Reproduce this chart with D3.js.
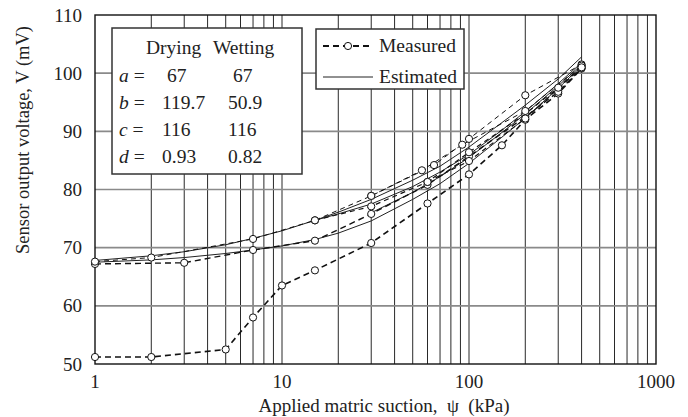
<!DOCTYPE html>
<html>
<head>
<meta charset="utf-8">
<script src="https://cdn.jsdelivr.net/npm/d3@7"></script>
<style>
  html, body { margin: 0; padding: 0; background: #fff; }
  svg { display: block; font-family: "Liberation Serif", "DejaVu Serif", serif; }
</style>
</head>
<body>
<svg id="chart" width="688" height="417"></svg>
<script>
// ---- data ----
const yTicks = [50, 60, 70, 80, 90, 100, 110];
const xTicks = [1, 10, 100, 1000];

// measured series (dashed + open circles)
const m1Psi = [1, 2, 5, 7, 10, 15, 30, 60, 100, 150, 200, 300, 400];
const m1V   = [51.2, 51.2, 52.5, 58, 63.5, 66.1, 70.8, 77.6, 82.6, 87.6, 92.0, 96.5, 100.8];
const m2Psi = [1, 3, 7, 15, 30, 60, 100, 200, 300, 400];
const m2V   = [67.2, 67.4, 69.6, 71.2, 75.8, 80.8, 85.7, 92.5, 96.8, 100.9];
const m3Psi = [1, 2, 7, 15, 30, 65, 100, 200, 400];
const m3V   = [67.6, 68.3, 71.5, 74.7, 78.9, 84.2, 88.7, 96.2, 101.5];
const m4Psi = [15, 30, 60, 100, 200, 300, 400];
const m4V   = [74.7, 77.1, 81.3, 86.4, 93.0, 97.5, 101.2];
const m5Psi = [30, 56, 92, 200, 400];
const m5V   = [78.9, 83.3, 87.7, 93.5, 101.3];
const m6Psi = [60, 100, 200, 400];
const m6V   = [81.3, 84.9, 92.2, 101.0];

// estimated series (thin solid)
const e1Psi = [1, 2, 3, 5, 7, 10, 15, 20, 30, 50, 70, 100, 150, 200, 300, 400];
const e1V   = [67.8, 68.6, 69.3, 70.5, 71.6, 72.9, 74.7, 76.1, 78.3, 81.6, 84.0, 87.3, 91.5, 94.5, 99.0, 102.8];
const e2Psi = [1, 2, 3, 5, 7, 10, 15, 20, 30, 50, 70, 100, 150, 200, 300, 400];
const e2V   = [67.5, 67.9, 68.3, 69.0, 69.6, 70.3, 71.4, 72.5, 74.6, 78.3, 81.0, 84.5, 89.0, 92.3, 97.4, 101.2];
const e3Psi = [15, 20, 30, 50, 70, 100, 150, 200, 300, 400];
const e3V   = [74.7, 75.8, 77.5, 80.5, 83.0, 86.0, 90.2, 93.4, 98.2, 101.8];
const e4Psi = [30, 50, 70, 100, 150, 200, 300, 400];
const e4V   = [76.0, 79.5, 82.2, 85.5, 89.8, 93.0, 97.8, 101.5];

const tableHead = ["Drying", "Wetting"];
const tableKeys = ["a", "b", "c", "d"];
const tableDry  = ["67", "119.7", "116", "0.93"];
const tableWet  = ["67", "50.9", "116", "0.82"];

const measured = [
  {psi: m1Psi, v: m1V, w: 1.6, dash: "6,4"},
  {psi: m2Psi, v: m2V, w: 1.4, dash: "6,4"},
  {psi: m3Psi, v: m3V, w: 1.0, dash: "5,4"},
  {psi: m4Psi, v: m4V, w: 1.2, dash: "5,4"},
  {psi: m5Psi, v: m5V, w: 1.0, dash: "5,4"},
  {psi: m6Psi, v: m6V, w: 1.2, dash: "5,4"}
];
const estimated = [
  {psi: e1Psi, v: e1V}, {psi: e2Psi, v: e2V},
  {psi: e3Psi, v: e3V}, {psi: e4Psi, v: e4V}
];

// ---- layout ----
const svg = d3.select("#chart");
const m = {left: 95, right: 656, top: 15, bottom: 364};
const x = d3.scaleLog().domain([1, 1000]).range([m.left, m.right]);
const y = d3.scaleLinear().domain([50, 110]).range([m.bottom, m.top]);

// vertical grid (black, thin)
const vGrid = [];
for (let dec = 1; dec < 1000; dec *= 10)
  for (let k = 2; k <= 9; k++) vGrid.push(dec * k);
vGrid.push(10, 100);
svg.append("g").selectAll("line").data(vGrid).join("line")
  .attr("x1", d => x(d)).attr("x2", d => x(d))
  .attr("y1", m.top).attr("y2", m.bottom)
  .attr("stroke", "#111").attr("stroke-width", 0.9);

// horizontal grid (grey)
svg.append("g").selectAll("line").data(yTicks.slice(1, -1)).join("line")
  .attr("x1", m.left).attr("x2", m.right)
  .attr("y1", d => y(d)).attr("y2", d => y(d))
  .attr("stroke", "#8a8a8a").attr("stroke-width", 1.6);

// frame
svg.append("rect").attr("x", m.left).attr("y", m.top)
  .attr("width", m.right - m.left).attr("height", m.bottom - m.top)
  .attr("fill", "none").attr("stroke", "#111").attr("stroke-width", 1.4);

// tick labels
svg.append("g").selectAll("text").data(yTicks).join("text")
  .attr("x", 82).attr("y", d => y(d) + 6.5)
  .attr("text-anchor", "end").attr("font-size", 19).attr("fill", "#222")
  .text(d => d);
svg.append("g").selectAll("text").data(xTicks).join("text")
  .attr("x", d => x(d)).attr("y", 388)
  .attr("text-anchor", "middle").attr("font-size", 19).attr("fill", "#222")
  .text(d => d);

// axis titles
svg.append("text").attr("x", 384).attr("y", 412)
  .attr("text-anchor", "middle").attr("font-size", 19).attr("fill", "#222")
  .attr("xml:space", "preserve")
  .text("Applied matric suction,  \u03C8  (kPa)");
svg.append("text").attr("transform", "translate(29,140) rotate(-90)")
  .attr("text-anchor", "middle").attr("font-size", 18.5).attr("fill", "#222")
  .text("Sensor output voltage, V (mV)");

// lines
const line = d3.line().x(d => x(d[0])).y(d => y(d[1]));
const pts = s => s.psi.map((p, i) => [p, s.v[i]]);

const plot = svg.append("g");
estimated.forEach(s => {
  plot.append("path").datum(pts(s)).attr("d", line)
    .attr("fill", "none").attr("stroke", "#222").attr("stroke-width", 1);
});
measured.forEach(s => {
  plot.append("path").datum(pts(s)).attr("d", line)
    .attr("fill", "none").attr("stroke", "#111")
    .attr("stroke-width", s.w).attr("stroke-dasharray", s.dash);
});
measured.forEach(s => {
  plot.append("g").selectAll("circle").data(pts(s)).join("circle")
    .attr("cx", d => x(d[0])).attr("cy", d => y(d[1])).attr("r", 3.6)
    .attr("fill", "#fff").attr("stroke", "#111").attr("stroke-width", 1);
});

// parameter table
const fs = 19.5;
const tb = svg.append("g");
tb.append("rect").attr("x", 112).attr("y", 28).attr("width", 190).attr("height", 146)
  .attr("fill", "#fff").attr("stroke", "#333").attr("stroke-width", 1.5);
tb.append("text").attr("x", 146).attr("y", 54).attr("font-size", fs).attr("fill", "#222")
  .text(tableHead[0]);
tb.append("text").attr("x", 213).attr("y", 54).attr("font-size", fs).attr("fill", "#222")
  .text(tableHead[1]);
tableKeys.forEach((k, i) => {
  const ty = 82 + i * 27;
  const row = tb.append("text").attr("x", 119).attr("y", ty).attr("font-size", fs).attr("fill", "#222");
  row.append("tspan").attr("font-style", "italic").text(k);
  row.append("tspan").text(" =");
  tb.append("text").attr("x", i === 0 ? 167 : 162).attr("y", ty).attr("font-size", fs).attr("fill", "#222")
    .text(tableDry[i]);
  tb.append("text").attr("x", i === 0 ? 233 : 228).attr("y", ty).attr("font-size", fs).attr("fill", "#222")
    .text(tableWet[i]);
});

// legend
const lg = svg.append("g");
lg.append("rect").attr("x", 316).attr("y", 29).attr("width", 148).attr("height", 60)
  .attr("fill", "#fff").attr("stroke", "#333").attr("stroke-width", 1.5);
lg.append("line").attr("x1", 323).attr("x2", 373).attr("y1", 46).attr("y2", 46)
  .attr("stroke", "#111").attr("stroke-width", 2).attr("stroke-dasharray", "6,4");
lg.append("circle").attr("cx", 348).attr("cy", 46).attr("r", 3.6)
  .attr("fill", "#fff").attr("stroke", "#111").attr("stroke-width", 1);
lg.append("text").attr("x", 379).attr("y", 52).attr("font-size", fs).attr("fill", "#222").text("Measured");
lg.append("line").attr("x1", 323).attr("x2", 373).attr("y1", 77).attr("y2", 77)
  .attr("stroke", "#222").attr("stroke-width", 1);
lg.append("text").attr("x", 379).attr("y", 83).attr("font-size", fs).attr("fill", "#222").text("Estimated");
</script>
</body>
</html>
